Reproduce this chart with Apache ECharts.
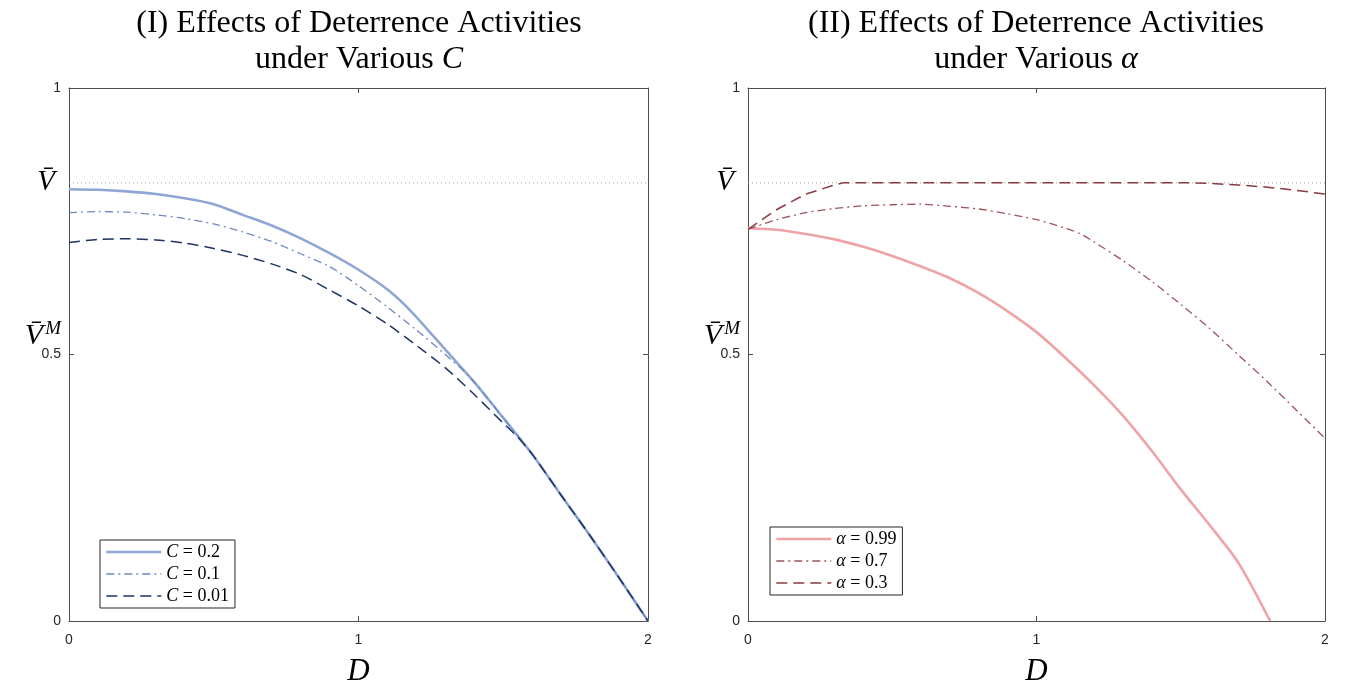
<!DOCTYPE html>
<html>
<head>
<meta charset="utf-8">
<script src="https://cdn.jsdelivr.net/npm/echarts@6/dist/echarts.min.js"></script>
<style>html,body{margin:0;padding:0;background:#fff;}#c{width:1350px;height:691px;}</style>
</head>
<body>
<div id="c"></div>
<script>
// ---- data ----
const Vbar = 0.822;
const xTicks = [0, 1, 2];
const yTicks = [0, 0.5, 1];

// Panel I: various C
const c02D = [0,0.1,0.2,0.3,0.4,0.5,0.6,0.7,0.8,0.9,1.0,1.1,1.18,1.3,1.4,1.5,1.6,1.7,1.8,1.9,2.0];
const c02V = [0.810,0.809,0.806,0.801,0.793,0.782,0.762,0.742,0.718,0.690,0.659,0.622,0.582,0.509,0.448,0.381,0.313,0.236,0.160,0.081,0.000];
const c01D = [0,0.1,0.2,0.3,0.4,0.5,0.6,0.7,0.8,0.9,1.0,1.1,1.2,1.3,1.36,1.4,1.5,1.6,1.7,1.8,1.9,2.0];
const c01V = [0.766,0.768,0.767,0.762,0.755,0.745,0.730,0.712,0.689,0.665,0.629,0.589,0.546,0.500,0.471,0.448,0.381,0.313,0.236,0.160,0.081,0.000];
const c001D = [0,0.1,0.2,0.3,0.4,0.5,0.6,0.7,0.8,0.9,1.0,1.1,1.2,1.3,1.4,1.5,1.55,1.6,1.7,1.8,1.9,2.0];
const c001V = [0.710,0.716,0.717,0.715,0.709,0.699,0.686,0.670,0.650,0.621,0.591,0.557,0.517,0.475,0.425,0.371,0.345,0.313,0.236,0.160,0.081,0.000];

// Panel II: various alpha
const a99D = [0,0.1,0.2,0.3,0.4,0.5,0.6,0.7,0.8,0.9,1.0,1.1,1.2,1.3,1.4,1.5,1.6,1.7,1.81];
const a99V = [0.737,0.734,0.726,0.716,0.702,0.685,0.665,0.643,0.615,0.581,0.542,0.494,0.442,0.385,0.319,0.247,0.180,0.109,0.000];
const a07D = [0,0.1,0.2,0.3,0.4,0.5,0.6,0.7,0.8,0.9,1.0,1.1,1.15,1.2,1.3,1.4,1.5,1.6,1.7,1.8,1.9,2.0];
const a07V = [0.735,0.753,0.766,0.774,0.779,0.781,0.782,0.778,0.773,0.764,0.753,0.737,0.727,0.711,0.676,0.637,0.594,0.549,0.499,0.449,0.396,0.343];
const a03D = [0,0.1,0.2,0.3,0.33,1.55,1.6,1.7,1.8,1.9,2.0];
const a03V = [0.735,0.772,0.801,0.818,0.822,0.822,0.821,0.818,0.814,0.808,0.801];

const namesC = ['C = 0.2', 'C = 0.1', 'C = 0.01'];
const namesA = ['α = 0.99', 'α = 0.7', 'α = 0.3'];

const zip = (xs, ys) => xs.map((x, i) => [x, ys[i]]);

// ---- styling ----
const axisColor = '#4d4d4d';
const serif = 'Liberation Serif';
const sans = 'Liberation Sans';

function xAxes(g) {
  return [
    {
      gridIndex: g, type: 'value', min: 0, max: 2, interval: 1, position: 'bottom',
      axisLine: { show: true, onZero: false, lineStyle: { color: axisColor, width: 1 } },
      axisTick: { show: true, inside: true, length: 5, lineStyle: { color: axisColor } },
      axisLabel: { show: true, margin: 12, color: '#262626', fontFamily: sans, fontSize: 14 },
      splitLine: { show: false },
      name: 'D', nameLocation: 'middle', nameGap: 35, nameMoveOverlap: false,
      nameTextStyle: { fontFamily: serif, fontStyle: 'italic', fontSize: 31, color: '#000' }
    },
    {
      gridIndex: g, type: 'value', min: 0, max: 2, interval: 1, position: 'top',
      axisLine: { show: true, onZero: false, lineStyle: { color: axisColor, width: 1 } },
      axisTick: { show: true, inside: true, length: 5, lineStyle: { color: axisColor } },
      axisLabel: { show: false }, splitLine: { show: false }
    }
  ];
}
function yAxes(g) {
  return [
    {
      gridIndex: g, type: 'value', min: 0, max: 1, position: 'left',
      axisLine: { show: true, onZero: false, lineStyle: { color: axisColor, width: 1 } },
      axisTick: { show: true, inside: true, length: 5, customValues: yTicks, lineStyle: { color: axisColor } },
      axisLabel: {
        show: true, margin: 8, customValues: [0, 0.5, Vbar, 1],
        color: '#262626', fontFamily: sans, fontSize: 14,
        formatter: v => (Math.abs(v - Vbar) < 1e-6 ? '{v|V\u0304}' : String(v)),
        rich: { v: { fontFamily: serif, fontStyle: 'italic', fontSize: 29, color: '#000', padding: [0, 6, 0, 0] } }
      },
      splitLine: { show: false },
      name: '{v|V\u0304}{m|M}', nameLocation: 'middle', nameRotate: 0, nameGap: 8, nameMoveOverlap: false,
      nameTextStyle: {
        padding: [0, 0, 38, 0],
        rich: {
          v: { fontFamily: serif, fontStyle: 'italic', fontSize: 30, color: '#000', lineHeight: 32, verticalAlign: 'bottom' },
          m: { fontFamily: serif, fontStyle: 'italic', fontSize: 19, color: '#000', lineHeight: 32, verticalAlign: 'top', padding: [0, 0, 16, 2] }
        }
      }
    },
    {
      gridIndex: g, type: 'value', min: 0, max: 1, position: 'right',
      axisLine: { show: true, onZero: false, lineStyle: { color: axisColor, width: 1 } },
      axisTick: { show: true, inside: true, length: 5, customValues: yTicks, lineStyle: { color: axisColor } },
      axisLabel: { show: false }, splitLine: { show: false }
    }
  ];
}

function lineSeries(name, data, xi, color, width, type, smooth) {
  return {
    name, type: 'line', data, xAxisIndex: xi, yAxisIndex: xi,
    showSymbol: false, symbol: 'none', smooth: smooth,
    lineStyle: { color, width, type }, itemStyle: { color },
    z: 3
  };
}
function vbarLine(xi) {
  return {
    name: 'vbar' + xi, type: 'line', data: [[0, Vbar], [2, Vbar]], xAxisIndex: xi, yAxisIndex: xi,
    showSymbol: false, symbol: 'none', silent: true, z: 1,
    lineStyle: { color: '#a0a0a0', width: 1, type: [1, 3] }
  };
}

const legendText = {
  fontFamily: serif, fontSize: 18, color: '#000', lineHeight: 17,
  rich: { i: { fontFamily: serif, fontStyle: 'italic', fontSize: 18, color: '#000', lineHeight: 17 } }
};
const legendFmt = n => n.replace(/^(C|α)/, '{i|$1}');

const titleStyle = {
  fontFamily: serif, fontSize: 32, fontWeight: 'normal', color: '#000', lineHeight: 36,
  rich: { i: { fontFamily: serif, fontStyle: 'italic', fontSize: 32, color: '#000', lineHeight: 36 } }
};

const legendCommon = {
  orient: 'vertical', itemWidth: 55, itemHeight: 12, itemGap: 4, padding: [3, 6, 3, 5],
  borderColor: '#262626', borderWidth: 1, backgroundColor: '#fff',
  itemStyle: { opacity: 0 },
  formatter: legendFmt, textStyle: legendText, selectedMode: false
};
const legendWidths = [2.6, 1.3, 1.5];
const legendData = names => names.map((n, i) => ({ name: n, lineStyle: { width: legendWidths[i] } }));

const option = {
  animation: false,
  backgroundColor: '#fff',
  title: [
    { text: '(I) Effects of Deterrence Activities\nunder Various {i|C}', left: 359, top: 6, textAlign: 'center', padding: 0, textStyle: titleStyle },
    { text: '(II) Effects of Deterrence Activities\nunder Various {i|α}', left: 1036, top: 6, textAlign: 'center', padding: 0, textStyle: titleStyle }
  ],
  grid: [
    { left: 69, top: 88, width: 579, height: 533, outerBoundsMode: 'none', containLabel: false },
    { left: 748, top: 88, width: 577, height: 533, outerBoundsMode: 'none', containLabel: false }
  ],
  xAxis: [...xAxes(0), ...xAxes(1)],
  yAxis: [...yAxes(0), ...yAxes(1)],
  legend: [
    Object.assign({ data: legendData(namesC), left: 100, top: 540 }, legendCommon),
    Object.assign({ data: legendData(namesA), left: 770, top: 527 }, legendCommon)
  ],
  series: [
    vbarLine(0),
    lineSeries(namesC[0], zip(c02D, c02V), 0, '#8fa6d5', 2.6, 'solid', 0.25),
    lineSeries(namesC[1], zip(c01D, c01V), 0, '#6f88c0', 1.3, [8, 4, 2, 4], 0.25),
    lineSeries(namesC[2], zip(c001D, c001V), 0, '#1f3461', 1.5, [11, 6], 0.25),
    vbarLine(2),
    lineSeries(namesA[0], zip(a99D, a99V), 2, '#eea4a7', 2.6, 'solid', 0.25),
    lineSeries(namesA[1], zip(a07D, a07V), 2, '#9c5559', 1.3, [8, 4, 2, 4], 0.25),
    lineSeries(namesA[2], zip(a03D, a03V), 2, '#8a3a40', 1.5, [11, 6], false)
  ]
};

const chart = echarts.init(document.getElementById('c'), null, { renderer: 'canvas' });
chart.setOption(option);
</script>
</body>
</html>
